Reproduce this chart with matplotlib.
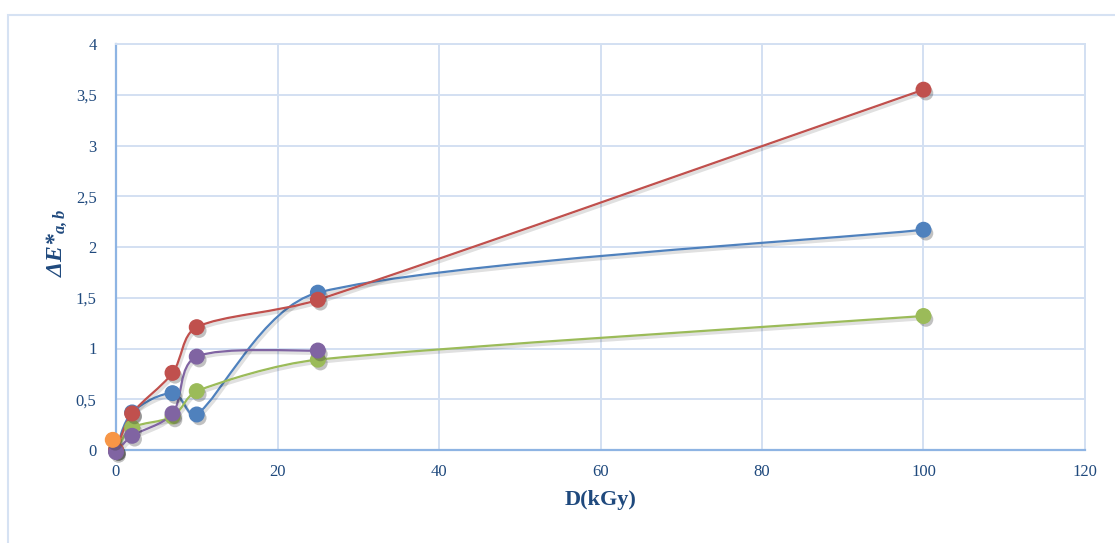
import numpy as np
import matplotlib
matplotlib.use("Agg")
import matplotlib.pyplot as plt
from matplotlib.path import Path
from matplotlib.patches import PathPatch, Rectangle
import matplotlib.patheffects as pe

plt.rcParams['font.family'] = ['Liberation Serif', 'DejaVu Serif']
plt.rcParams['mathtext.fontset'] = 'custom'
plt.rcParams['mathtext.rm'] = 'Liberation Serif'
plt.rcParams['mathtext.it'] = 'Liberation Serif:italic'
plt.rcParams['mathtext.bf'] = 'Liberation Serif:bold'
plt.rcParams['mathtext.bfit'] = 'Liberation Serif:italic:bold'

# data
dose_long = [0, 2, 7, 10, 25, 100]
dose_short = [0, 2, 7, 10, 25]
red_vals = [0.0, 0.36, 0.76, 1.21, 1.48, 3.55]
blue_vals = [0.0, 0.37, 0.56, 0.35, 1.55, 2.17]
green_vals = [0.0, 0.22, 0.33, 0.58, 0.89, 1.32]
purple_vals = [-0.02, 0.14, 0.36, 0.92, 0.98]
orange_x = [-0.4]
orange_vals = [0.10]

x_ticks = [0, 20, 40, 60, 80, 100, 120]
y_ticks = [0, 0.5, 1, 1.5, 2, 2.5, 3, 3.5, 4]
y_tick_labels = ['0', '0,5', '1', '1,5', '2', '2,5', '3', '3,5', '4']

series = [
    (dose_long, blue_vals, '#4F81BD'),
    (dose_long, green_vals, '#9BBB59'),
    (dose_long, red_vals, '#C0504D'),
    (dose_short, purple_vals, '#8064A2'),
]

W, H = 1115, 543
fig = plt.figure(figsize=(W / 100, H / 100), dpi=100)
ax = fig.add_axes([116 / W, (H - 450) / H, (1085 - 116) / W, (450 - 44) / H])

fig.patches.append(Rectangle((8 / W, -0.1), 1.2, (H - 15) / H + 0.1,
                             transform=fig.transFigure, fill=False,
                             edgecolor='#D6E2F3', linewidth=1.5))

ax.set_xlim(0, 120)
ax.set_ylim(0, 4)


def smooth_path(xs, ys):
    # smoothed line (Catmull-Rom style Bezier, handles capped), in display space
    pts = ax.transData.transform(np.column_stack([xs, ys]).astype(float))
    n = len(pts)
    verts = [pts[0]]
    codes = [Path.MOVETO]

    def cap(h, seg):
        ln = np.hypot(*h)
        lim = seg / 3.0
        if ln > lim and ln > 0:
            h = h * lim / ln
        return h

    for i in range(n - 1):
        p0 = pts[i - 1] if i > 0 else pts[i]
        p1 = pts[i]
        p2 = pts[i + 1]
        p3 = pts[i + 2] if i + 2 < n else pts[i + 1]
        seg = np.hypot(*(p2 - p1))
        c1 = p1 + cap((p2 - p0) / 6.0, seg)
        c2 = p2 - cap((p3 - p1) / 6.0, seg)
        verts += [c1, c2, p2]
        codes += [Path.CURVE4] * 3
    verts = ax.transData.inverted().transform(np.array(verts))
    return Path(verts, codes)


shadow_line = [pe.SimpleLineShadow(offset=(1.2, -1.8), alpha=0.12, shadow_color='black', linewidth=2.4), pe.Normal()]
shadow_mark = [pe.SimplePatchShadow(offset=(1.8, -2.5), alpha=0.3, shadow_rgbFace='#333333'), pe.Normal()]

for xs, ys, col in series:
    patch = PathPatch(smooth_path(xs, ys), facecolor='none', edgecolor=col,
                      linewidth=1.6, zorder=3, clip_on=False, path_effects=shadow_line)
    ax.add_patch(patch)

for xs, ys, col in series:
    ax.plot(xs, ys, linestyle='none', marker='o', markersize=10.5,
            markerfacecolor=col, markeredgecolor=col, zorder=4, clip_on=False,
            path_effects=shadow_mark)

ax.plot(orange_x, orange_vals, linestyle='none', marker='o', markersize=10.5,
        markerfacecolor='#F79646', markeredgecolor='#F79646', zorder=5, clip_on=False,
        path_effects=shadow_mark)

ax.set_xticks(x_ticks)
ax.set_yticks(y_ticks)
ax.set_yticklabels(y_tick_labels)
ax.grid(True, color='#D3E0F2', linewidth=1.4, zorder=0)
ax.set_axisbelow(True)

for s in ['top', 'right']:
    ax.spines[s].set_color('#D3E0F2')
    ax.spines[s].set_linewidth(1.4)
for s in ['left', 'bottom']:
    ax.spines[s].set_color('#8EB4E3')
    ax.spines[s].set_linewidth(1.6)

ax.tick_params(length=0, labelsize=12, labelcolor='#1F497D')
ax.tick_params(axis='y', pad=14)
ax.tick_params(axis='x', pad=10)

ax.set_xlabel('D(kGy)', fontsize=16, fontweight='bold', color='#1F497D', labelpad=7)
ax.set_ylabel(r'$\mathbfit{\Delta E{*}_{a,b}}$', fontsize=17, color='#1F497D')
ax.yaxis.set_label_coords(-0.048, 0.51)

fig.savefig('out.png', dpi=100)
